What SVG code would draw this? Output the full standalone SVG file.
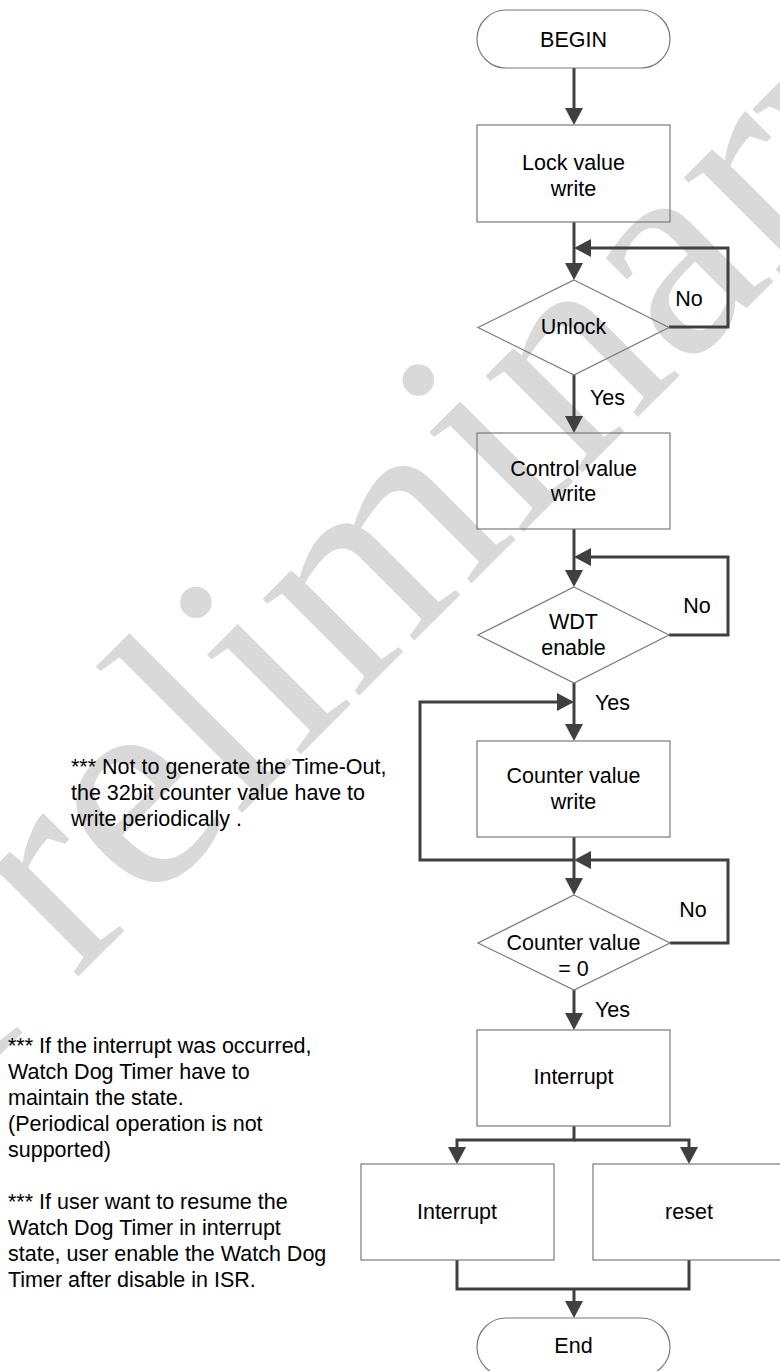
<svg xmlns="http://www.w3.org/2000/svg" width="780" height="1371" viewBox="0 0 780 1371">
<style>
.wm{font-family:"Liberation Serif","Times New Roman",serif;font-size:298px;fill:#d9d9d9}
.shape{fill:none;stroke:#7a7a7a;stroke-width:1.2}
.t{font-family:"Liberation Sans",Arial,sans-serif;font-size:21.5px;fill:#000;text-anchor:middle}
.l{font-family:"Liberation Sans",Arial,sans-serif;font-size:21.5px;fill:#000}
.c{fill:none;stroke:#404040;stroke-width:3;marker-end:url(#ah)}
.c0{fill:none;stroke:#404040;stroke-width:3}
</style>
<defs>
<marker id="ah" viewBox="0 0 17 18" refX="9" refY="9" markerWidth="17" markerHeight="18" markerUnits="userSpaceOnUse" orient="auto">
<path d="M0,0 L17,9 L0,18 z" fill="#404040"/>
</marker>
</defs>
<rect width="780" height="1371" fill="#fff"/>
<text class="wm" transform="translate(-43,1098) rotate(-45)">Preliminary</text>

<g id="connectors">
<path class="c" d="M574,68 V117"/>
<path class="c" d="M574,222 V272"/>
<path class="c" d="M669,327 H728 V248 H582"/>
<path class="c" d="M574,375 V425"/>
<path class="c" d="M574,529 V579"/>
<path class="c" d="M669,635 H728 V557 H582"/>
<path class="c" d="M574,683 V733"/>
<path class="c" d="M574,837 V887"/>
<path class="c" d="M574,860 H420 V702 H566"/>
<path class="c" d="M670,943 H728 V860 H582"/>
<path class="c" d="M574,990 V1022"/>
<path class="c" d="M574,1126 V1140 H457 V1156"/>
<path class="c" d="M574,1140 H689 V1156"/>
<path class="c0" d="M457,1260 V1289 H689 V1260"/>
<path class="c" d="M574,1289 V1310"/>
</g>

<g id="begin">
<rect class="shape" x="477" y="10" width="193" height="58" rx="29" ry="29"/>
<text class="t" x="573.5" y="47">BEGIN</text>
</g>
<g id="lock">
<rect class="shape" x="477" y="125" width="193" height="97"/>
<text class="t" x="573.5" y="170">Lock value</text>
<text class="t" x="573.5" y="196">write</text>
</g>
<g id="unlock">
<polygon class="shape" points="574,280 669,327.5 574,375 478,327.5"/>
<text class="t" x="573.5" y="334">Unlock</text>
</g>
<g id="control">
<rect class="shape" x="477" y="433" width="193" height="96"/>
<text class="t" x="573.5" y="476">Control value</text>
<text class="t" x="573.5" y="501">write</text>
</g>
<g id="wdt">
<polygon class="shape" points="574,587 669,635 574,683 478,635"/>
<text class="t" x="573.5" y="629">WDT</text>
<text class="t" x="573.5" y="655">enable</text>
</g>
<g id="counter">
<rect class="shape" x="477" y="741" width="193" height="96"/>
<text class="t" x="573.5" y="783">Counter value</text>
<text class="t" x="573.5" y="809">write</text>
</g>
<g id="counterzero">
<polygon class="shape" points="574,895 670,943 574,990 478,943"/>
<text class="t" x="573.5" y="950">Counter value</text>
<text class="t" x="573.5" y="976">= 0</text>
</g>
<g id="interrupt">
<rect class="shape" x="477" y="1030" width="193" height="96"/>
<text class="t" x="573.5" y="1084">Interrupt</text>
</g>
<g id="interrupt2">
<rect class="shape" x="361" y="1164" width="193" height="96"/>
<text class="t" x="457" y="1219">Interrupt</text>
</g>
<g id="reset">
<rect class="shape" x="593" y="1164" width="193" height="96"/>
<text class="t" x="689" y="1219">reset</text>
</g>
<g id="end">
<rect class="shape" x="477" y="1318" width="193" height="58" rx="29" ry="29"/>
<text class="t" x="573.5" y="1353">End</text>
</g>

<g id="labels">
<text class="t" x="689" y="306">No</text>
<text class="l" x="590" y="405">Yes</text>
<text class="t" x="697" y="613">No</text>
<text class="l" x="595" y="710">Yes</text>
<text class="t" x="693" y="917">No</text>
<text class="l" x="595" y="1017">Yes</text>
</g>

<g id="notes">
<text class="l" x="71" y="774">*** Not to generate the Time-Out,</text>
<text class="l" x="71" y="800">the 32bit counter value have to</text>
<text class="l" x="71" y="826">write periodically .</text>
<text class="l" x="8" y="1053">*** If the interrupt was occurred,</text>
<text class="l" x="8" y="1079">Watch Dog Timer have to</text>
<text class="l" x="8" y="1105">maintain the state.</text>
<text class="l" x="8" y="1131">(Periodical operation is not</text>
<text class="l" x="8" y="1157">supported)</text>
<text class="l" x="8" y="1209">*** If user want to resume the</text>
<text class="l" x="8" y="1235">Watch Dog Timer in interrupt</text>
<text class="l" x="8" y="1261">state, user enable the Watch Dog</text>
<text class="l" x="8" y="1287">Timer after disable in ISR.</text>
</g>
</svg>
